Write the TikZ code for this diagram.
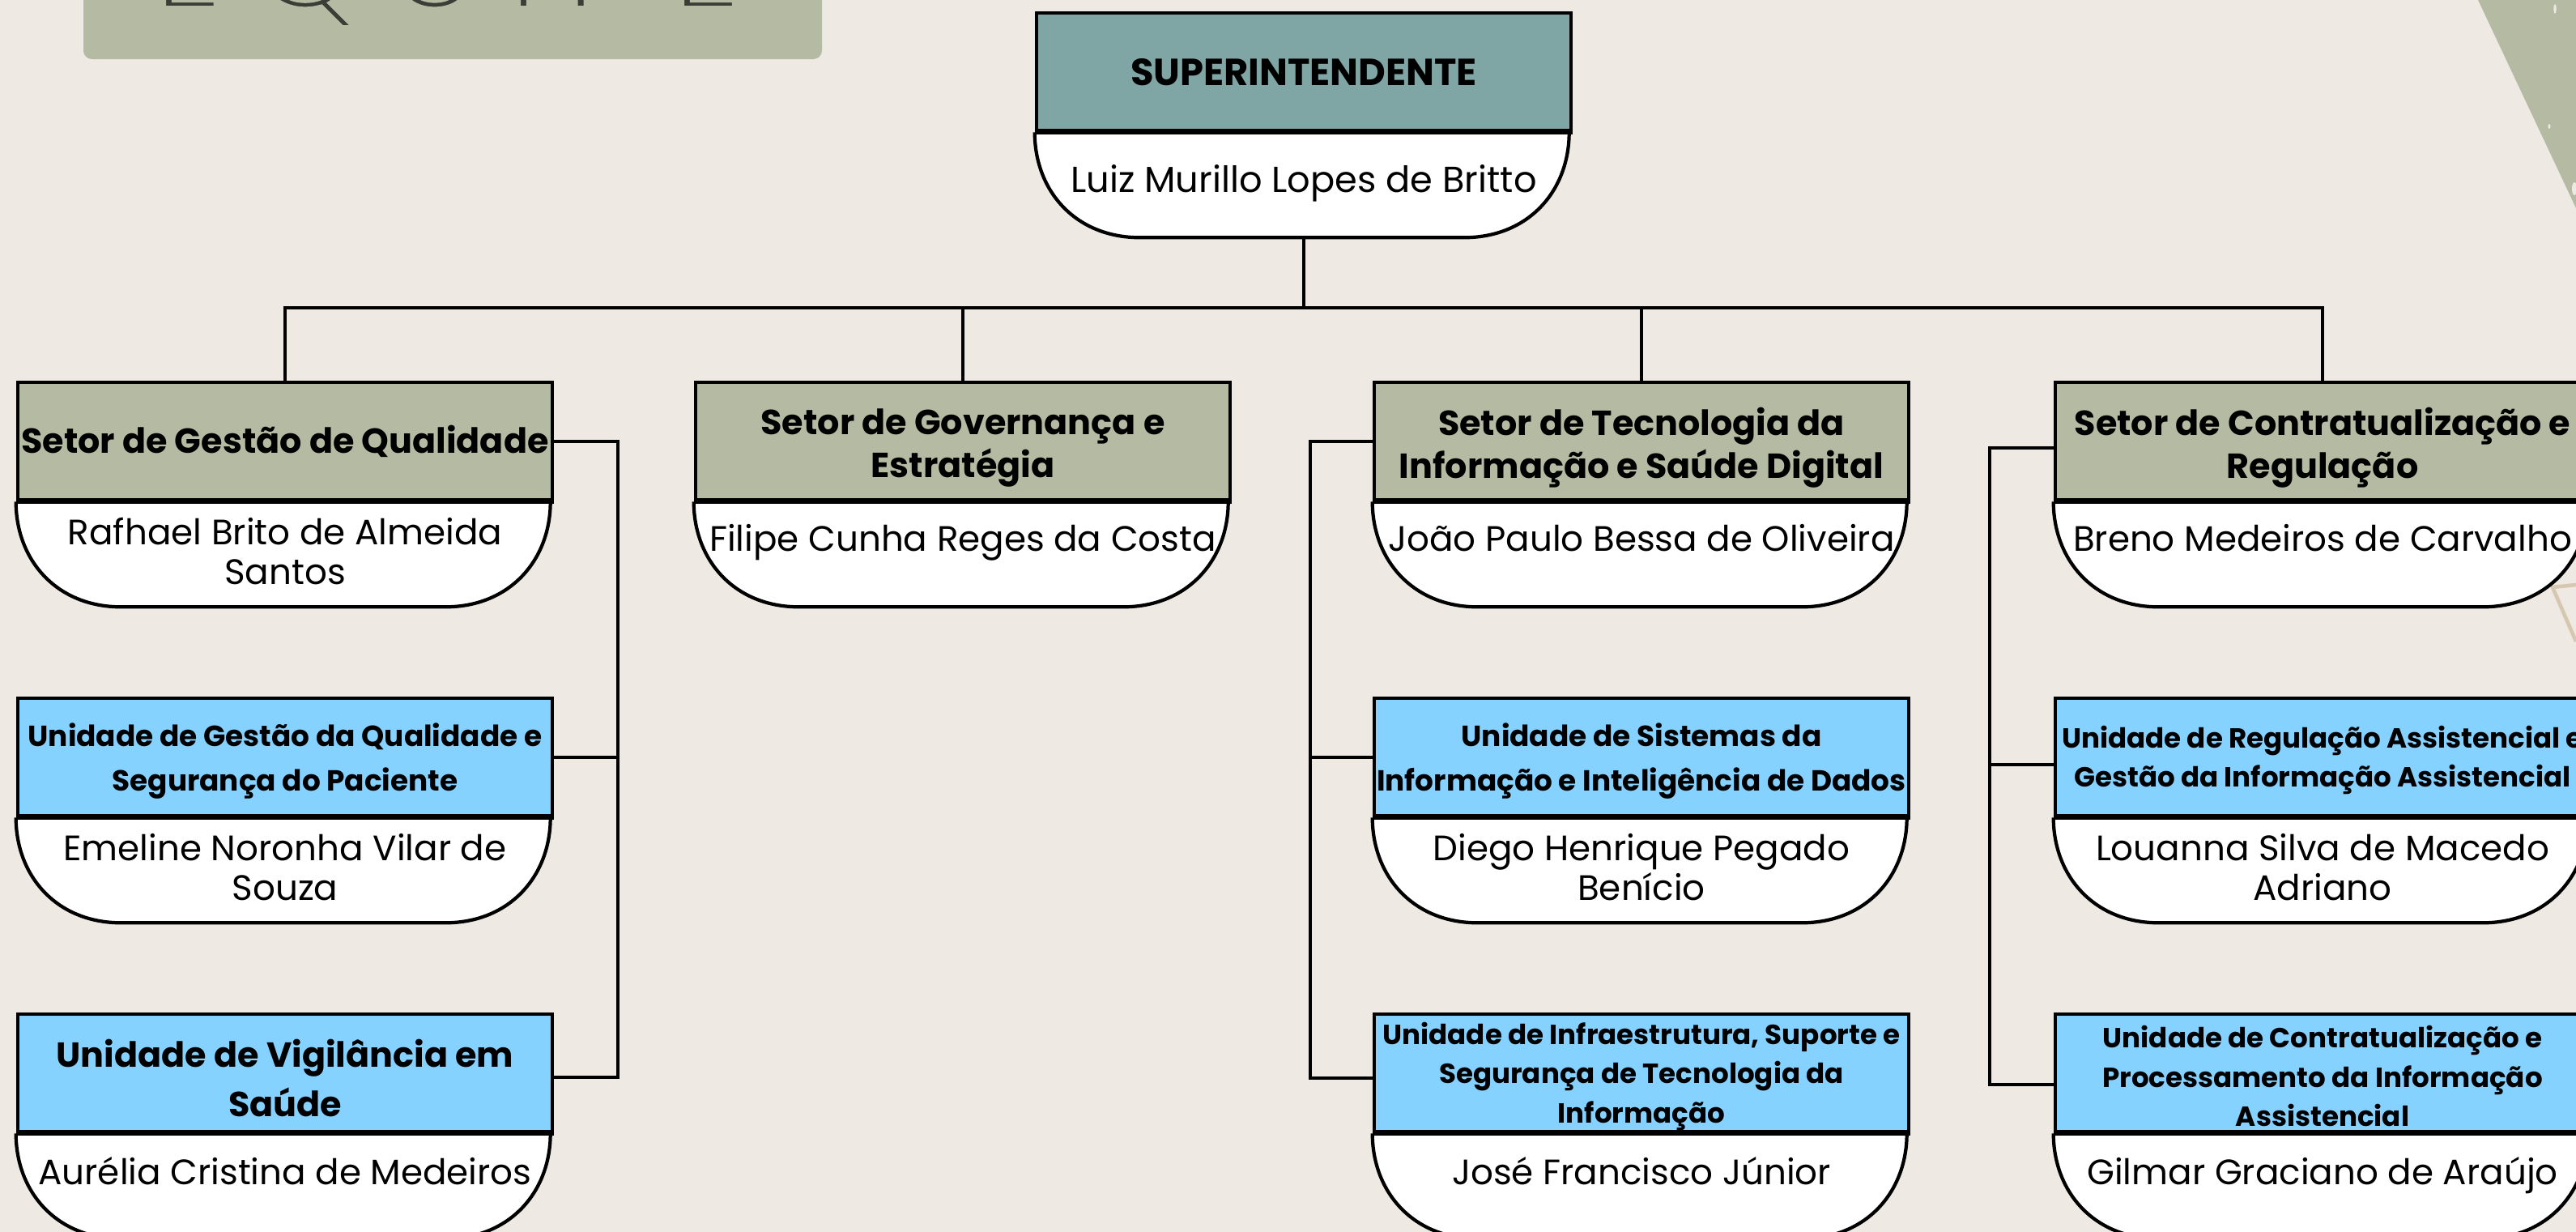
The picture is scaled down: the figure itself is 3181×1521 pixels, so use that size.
\documentclass[tikz,border=0pt]{standalone}
\usepackage{fontspec}
\setmainfont{Poppins}
\usetikzlibrary{calc}
\definecolor{bg}{HTML}{EFE9E4}
\definecolor{sage}{HTML}{B5BBA2}
\definecolor{supteal}{HTML}{7FA6A4}
\definecolor{unitblue}{HTML}{85D1FF}
\definecolor{tanline}{HTML}{D6C7B0}
\definecolor{titlegray}{HTML}{3A3E37}
\newcommand\fsup{\fontsize{13.2pt}{15pt}\selectfont\bfseries}
\newcommand\fsec{\fontsize{12.2pt}{15.1pt}\selectfont\bfseries}
\newcommand\fsecw{\fontsize{12.2pt}{17.3pt}\selectfont\bfseries}
\newcommand\funit{\fontsize{10.2pt}{15.5pt}\selectfont\bfseries}
\newcommand\funitsm{\fontsize{9.7pt}{13.8pt}\selectfont\bfseries}
\newcommand\fname{\fontsize{12.4pt}{14pt}\selectfont}
\newcommand\fsupname{\fontsize{12.7pt}{14pt}\selectfont}
\newcommand\ftitle{\fontsize{52pt}{54pt}\selectfont\addfontfeature{LetterSpace=14}}
% box: #1 name, #2 x centre, #3 y top, #4 head fill, #5 name font, #6 name offset, #7 name text
\newcommand{\orgbox}[7]{%
  \node[headbox, fill=#4] (#1) at (#2,#3) {};
  \begin{scope}[shift={(#1.south west)}]
    \path[boxline, fill=white] (0,0) .. controls (0,72) and (50,130) .. (130,130) -- (530,130) .. controls (610,130) and (660,72) .. (660,0);
  \end{scope}
  \draw[boxline, line width=1.4pt] (#1.south west) -- (#1.south east);
  \coordinate (#1-bot) at ([yshift=-1.3cm]#1.south);
  \node[namebox, font=#5, anchor=north] (#1-name) at ([yshift=-#6*0.01cm]#1.south) {#7};
}
% head text: #1 box name, #2 font, #3 downward shift (px), #4 text
\newcommand{\headtext}[4]{%
  \node[headlabel, font=#2] (#1-title) at ([yshift=-#3*0.01cm]#1.center) {#4};
}
\tikzset{
  headbox/.style={draw=black, line width=1.2pt, minimum width=6.6cm, minimum height=1.45cm,
    inner sep=0pt, anchor=north},
  headlabel/.style={align=center, inner sep=0pt, text=black},
  boxline/.style={draw=black, line width=1.2pt},
  namebox/.style={align=center, inner sep=0pt, text=black},
  conn/.style={draw=black, line width=1.2pt},
}
\begin{document}
\begin{tikzpicture}[x=0.01cm, y=-0.01cm]
\useasboundingbox (0,0) rectangle (3181,1521);
\fill[bg] (0,0) rectangle (3181,1521);
% decorative corner
\fill[sage] (3060,0) -- (3181,0) -- (3181,257) -- cycle;
\fill[bg] (3155,11) ellipse (1.6 and 6);
\fill[bg] (3148,156) ellipse (1.5 and 3);
\fill[bg] (3179,233) ellipse (3 and 8);
\draw[tanline, line width=1.3pt] (3181,722) -- (3152,725) -- (3181,792);
% title banner
\fill[sage, rounded corners=3] (103,-20) rectangle (1015,73);
\node[font=\ftitle, text=titlegray, anchor=base, inner sep=0pt] (title) at (553,12)
  {\special{pdf:code q 2 Tr 2.8 w 0.71 0.733 0.635 RG}EQUIPE\special{pdf:code Q}};
% boxes
\orgbox{sup}{1610}{14}{supteal}{\fsupname}{40}{Luiz Murillo Lopes de Britto}
\orgbox{s1}{352}{470}{sage}{\fname}{19}{Rafhael Brito de Almeida\\Santos}
\orgbox{s2}{1189}{470}{sage}{\fname}{27}{Filipe Cunha Reges da Costa}
\orgbox{s3}{2027}{470}{sage}{\fname}{27}{João Paulo Bessa de Oliveira}
\orgbox{s4}{2868}{470}{sage}{\fname}{27}{Breno Medeiros de Carvalho}
\orgbox{u11}{352}{860}{unitblue}{\fname}{19}{Emeline Noronha Vilar de\\Souza}
\orgbox{u12}{352}{1250}{unitblue}{\fname}{28}{Aurélia Cristina de Medeiros}
\orgbox{u31}{2027}{860}{unitblue}{\fname}{19}{Diego Henrique Pegado\\Benício}
\orgbox{u32}{2027}{1250}{unitblue}{\fname}{28}{José Francisco Júnior}
\orgbox{u41}{2868}{860}{unitblue}{\fname}{19}{Louanna Silva de Macedo\\Adriano}
\orgbox{u42}{2868}{1250}{unitblue}{\fname}{28}{Gilmar Graciano de Araújo}
% head texts
\headtext{sup}{\fsup}{0}{SUPERINTENDENTE}
\headtext{s1}{\fsec}{0}{Setor de Gestão de Qualidade}
\headtext{s2}{\fsec}{8}{Setor de Governança e\\Estratégia}
\headtext{s3}{\fsec}{8}{Setor de Tecnologia da\\Informação e Saúde Digital}
\headtext{s4}{\fsec}{8}{Setor de Contratualização e\\Regulação}
\headtext{u11}{\funit}{5}{Unidade de Gestão da Qualidade e\\Segurança do Paciente}
\headtext{u12}{\fsecw}{6}{Unidade de Vigilância em\\Saúde}
\headtext{u31}{\funit}{5}{Unidade de Sistemas da\\Informação e Inteligência de Dados}
\headtext{u32}{\funitsm}{4}{Unidade de Infraestrutura, Suporte e\\Segurança de Tecnologia da\\Informação}
\headtext{u41}{\funitsm}{4}{Unidade de Regulação Assistencial e\\Gestão da Informação Assistencial}
\headtext{u42}{\funitsm}{4}{Unidade de Contratualização e\\Processamento da Informação\\Assistencial}
% connectors
\coordinate (busy) at (0,380);
\draw[conn] (sup-bot) -- (sup-bot |- busy);
\draw[conn] (s1.north) -- (s1.north |- busy) -- (s4.north |- busy) -- (s4.north);
\draw[conn] (s2.north) -- (s2.north |- busy);
\draw[conn] (s3.north) -- (s3.north |- busy);
% column 1
\coordinate (c1) at (763,0);
\coordinate (u12e) at ([yshift=-0.05cm]u12.east);
\draw[conn] (s1.east) -- (s1.east -| c1) -- (u12e -| c1) -- (u12e);
\draw[conn] (u11.east) -- (u11.east -| c1);
% column 3
\coordinate (c3) at (1618,0);
\coordinate (u32w) at ([yshift=-0.06cm]u32.west);
\draw[conn] (s3.west) -- (s3.west -| c3) -- (u32w -| c3) -- (u32w);
\draw[conn] (u31.west) -- (u31.west -| c3);
% column 4
\coordinate (c4) at (2457,0);
\coordinate (s4w) at ([yshift=-0.08cm]s4.west);
\coordinate (u41w) at ([yshift=-0.09cm]u41.west);
\coordinate (u42w) at ([yshift=-0.14cm]u42.west);
\draw[conn] (s4w) -- (s4w -| c4) -- (u42w -| c4) -- (u42w);
\draw[conn] (u41w) -- (u41w -| c4);
\end{tikzpicture}
\end{document}
